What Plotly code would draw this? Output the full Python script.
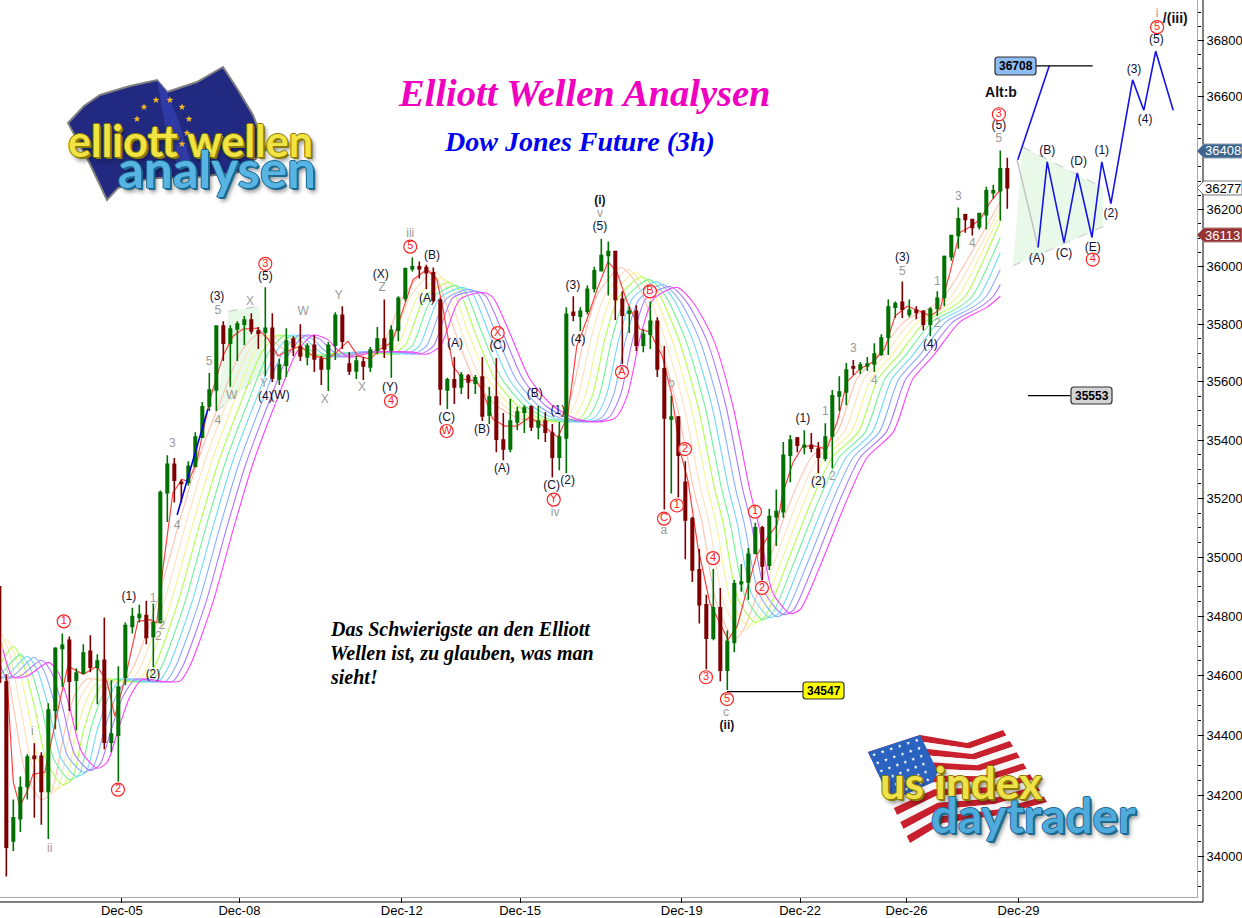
import math
import plotly.graph_objects as go

# ---------- candles (3h bars) ----------
bars = list(range(-1, 144))
opens = [34900,34579,34050,34124,34231,34331,34331,34214,34485,34692,34719,34585,34609,34682,34629,34652,34378,34401,34595,34766,34796,34803,34732,
34779,35220,35317,35255,35255,35310,35410,35517,35572,35793,35734,35783,35800,35814,35776,35772,35786,35610,35658,35748,35721,35686,35727,35679,35645,35727,35831,
35662,35638,35669,35652,35710,35748,35710,35779,35890,35993,36000,35997,35979,35883,35572,35607,35583,35620,35596,35617,35486,35548,35400,35369,35462,35496,35514,35445,35465,35424,35341,35407,35841,35828,35845,35924,35986,36039,36053,35886,35838,35845,35727,35765,35810,35645,35472,35479,35255,35131,34957,34839,34726,34829,34619,34712,34910,34916,35014,35100,34973,35138,35155,35348,35407,35376,35382,35369,35338,35414,35552,35565,35652,35645,35655,35662,35696,35755,35859,35876,35834,35848,35845,35800,35855,35893,36035,36109,36182,36165,36140,36182,36259,36266,36343]
highs = [34900,34605,34187,34264,34338,34374,34344,34508,34696,34742,34732,34625,34706,34736,34672,34796,34585,34632,34779,34829,34839,34853,34843,
35227,35348,35338,35265,35327,35427,35531,35631,35796,35810,35796,35810,35828,35838,35790,35928,35838,35679,35786,35758,35800,35734,35762,35690,35738,35841,35862,
35703,35690,35686,35721,35790,35886,35796,35897,35997,36032,36018,36007,35997,35890,35614,35686,35634,35627,35624,35686,35583,35683,35493,35541,35514,35520,35520,35517,35496,35455,35462,35859,35897,35859,35934,36000,36098,36088,36056,35914,35862,35866,35783,35879,35824,35724,35552,35483,35327,35138,35028,34873,34960,34896,34752,34923,34977,35031,35117,35107,35165,35231,35393,35417,35410,35434,35424,35393,35458,35572,35620,35665,35676,35669,35686,35734,35765,35886,35879,35948,35886,35862,35848,35859,35914,36039,36112,36207,36185,36168,36189,36280,36287,36408,36382]
lows = [34570,33933,34017,34080,34187,34127,34104,34057,34421,34562,34482,34418,34609,34612,34505,34354,34344,34247,34568,34742,34779,34706,34629,
34776,35120,35186,35186,35244,35307,35410,35500,35500,35672,35583,35672,35727,35765,35714,35620,35600,35589,35617,35690,35672,35658,35634,35589,35569,35676,35714,
35624,35610,35607,35634,35696,35683,35614,35741,35879,35983,35959,35921,35876,35520,35507,35524,35558,35541,35558,35465,35455,35358,35331,35358,35434,35424,35431,35403,35393,35272,35296,35286,35810,35776,35834,35910,35983,35900,35814,35662,35769,35707,35703,35714,35617,35162,35217,35203,34993,34916,34776,34622,34719,34582,34552,34679,34883,34856,35010,34923,34957,35038,35134,35255,35358,35351,35358,35286,35327,35303,35500,35520,35624,35627,35638,35634,35690,35693,35821,35821,35824,35817,35779,35758,35828,35862,36021,36063,36119,36109,36130,36130,36238,36161,36203]
closes = [34579,34030,34127,34227,34328,34324,34214,34485,34692,34702,34582,34609,34676,34629,34649,34378,34405,34562,34769,34799,34806,34729,34779,
35220,35317,35262,35251,35310,35410,35514,35572,35793,35734,35783,35800,35814,35776,35769,35786,35614,35658,35741,35721,35690,35724,35679,35645,35727,35831,35741,
35638,35672,35655,35710,35748,35714,35779,35890,35993,36000,35993,35979,35883,35576,35607,35583,35624,35600,35614,35483,35548,35403,35369,35465,35496,35510,35445,35465,35427,35341,35410,35834,35831,35845,35921,35986,36039,36053,35886,35831,35845,35727,35765,35810,35645,35476,35479,35348,35127,34957,34839,34726,34829,34619,34716,34910,34916,35010,35100,34970,35138,35155,35348,35400,35382,35382,35372,35341,35410,35552,35565,35641,35648,35658,35662,35696,35752,35859,35872,35852,35848,35841,35800,35852,35890,36035,36109,36168,36165,36137,36186,36266,36266,36343,36277]

# ---------- fast ribbon line ----------
red_bars = [0.1,1,1.95,3.1,3.8,5.5,7.7,8.8,11,12.95,14.4,15.5,16.95,18.8,20.5,21.5,22.4,23.8,25.1,26,27.2,29.1,30.95,32.4,33.8,35.8,37.4,38.8,40.2,42,43.8,45.95,47.2,48.8,50.2,52,53.4,55.1,56.7,58.1,60.1,61.5,62.4,63.8,65.2,67.2,68.1,69.5,71.2,72.95,74.8,76.7,78.8,80.2,81.5,82.95,84.4,85.95,87.2,88.7,90.5,91.95,93.7,95.1,96.2,97.4,98.8,100.5,103.1,104.4,105.8,107.2,108.8,110.1,110.95,112.4,113.8,115.5,117.2,118.7,120.1,121.95,123.8,125.5,126.95,128.7,130.5,132,133.4,134.8,136.2,137.7,139.1,140.5,142]
red_line = [34589,34244,34164,34221,34271,34278,34522,34632,34605,34632,34579,34465,34589,34783,34789,34779,34967,35220,35265,35258,35324,35541,35690,35758,35783,35786,35748,35690,35707,35724,35690,35679,35703,35741,35690,35679,35714,35738,35852,35955,35990,35955,35852,35655,35610,35603,35565,35472,35448,35448,35479,35448,35410,35483,35724,35817,35921,36018,35983,35876,35783,35772,35690,35552,35369,35258,35034,34846,34722,34766,34890,35007,35069,35110,35220,35324,35379,35379,35369,35462,35600,35645,35669,35714,35828,35862,35845,35828,35852,35979,36119,36140,36165,36224,36270]

# ---------- slower ribbon lines (read at shared knots, each drawn with its lag) ----------
ribbon_bars = [-0.5,1,3,6,7.4,9,10.8,13,14.4,16,17.7,19.5,22,24.8,26.2,29.5,32.4,35.2,38.7,41.5,43.8,45.8,47.2,49.1,52.4,58.1,60.1,62,64.8,68.1,69.5,72,74.8,78.1,81.5,84.4,87,88.7,90.5,92.4,95.8,98.1,101,103.8,106.2,107.4,109.5,112,113.4,116.2,120.1,123,126.7,129.5,132.4,136.2,140.1,142]
salmon = [34689,34595,34640,34750,34700,34498,34270,34187,34210,34380,34532,34589,34582,34582,34632,34846,35093,35317,35541,35703,35762,35748,35720,35700,35690,35690,35700,35740,35900,35990,35960,35780,35610,35517,35472,35462,35476,35552,35748,35900,35997,35940,35760,35517,35231,35117,34840,34722,34760,34940,35196,35341,35427,35610,35690,35807,35859,35897,36228]
peach = [34689,34595,34620,34746,34680,34498,34290,34204,34225,34400,34532,34589,34582,34582,34632,34846,35093,35317,35541,35703,35762,35748,35718,35695,35695,35695,35698,35735,35900,35983,35950,35775,35610,35517,35472,35462,35476,35552,35748,35895,35990,35930,35755,35517,35231,35117,34845,34746,34775,34950,35196,35341,35427,35610,35690,35807,35859,35897,36207]
yellow = [34689,34595,34610,34722,34660,34498,34300,34221,34240,34410,34532,34589,34582,34582,34632,34846,35093,35317,35541,35703,35762,35748,35716,35692,35698,35698,35697,35730,35897,35962,35935,35770,35610,35517,35472,35462,35476,35552,35748,35892,35979,35920,35752,35517,35231,35117,34850,34766,34790,34955,35196,35341,35427,35610,35690,35807,35859,35897,36186]
yellowgreen = [34689,34595,34605,34699,34640,34498,34310,34237,34255,34415,34532,34589,34582,34582,34632,34846,35093,35317,35541,35703,35762,35748,35715,35690,35700,35700,35696,35728,35895,35945,35925,35768,35610,35517,35472,35462,35476,35552,35748,35890,35965,35910,35750,35517,35231,35117,34860,34779,34800,34960,35196,35341,35427,35610,35690,35807,35859,35897,36158]
green = [34689,34595,34602,34672,34625,34498,34320,34254,34270,34418,34532,34589,34582,34582,34632,34846,35093,35317,35541,35703,35762,35748,35714,35688,35701,35701,35696,35726,35890,35934,35915,35766,35610,35517,35472,35462,35476,35552,35748,35888,35955,35900,35748,35517,35231,35117,34870,34789,34808,34963,35196,35341,35427,35610,35690,35807,35859,35897,36102]
cyan = [34689,34595,34600,34665,34620,34498,34325,34264,34280,34420,34532,34589,34582,34582,34632,34846,35093,35317,35541,35703,35762,35748,35714,35687,35702,35702,35696,35725,35888,35928,35910,35765,35610,35517,35472,35462,35476,35552,35748,35887,35948,35895,35748,35517,35231,35117,34875,34796,34812,34965,35196,35341,35427,35610,35690,35807,35859,35897,36049]
blue = [34689,34595,34600,34662,34616,34498,34330,34278,34295,34420,34532,34589,34582,34582,34632,34846,35093,35317,35541,35703,35762,35748,35714,35686,35703,35703,35696,35724,35887,35921,35903,35765,35610,35517,35472,35462,35476,35552,35748,35886,35938,35885,35748,35517,35231,35117,34878,34799,34816,34966,35196,35341,35427,35610,35690,35807,35859,35897,35990]
purple = [34689,34595,34599,34652,34614,34498,34335,34284,34305,34421,34532,34589,34582,34582,34632,34846,35093,35317,35541,35703,35762,35748,35714,35686,35703,35703,35696,35724,35892,35914,35897,35765,35610,35517,35472,35462,35476,35552,35748,35890,35931,35880,35748,35517,35231,35117,34875,34806,34820,34967,35196,35341,35427,35610,35690,35807,35859,35897,35938]
magenta = [34689,34595,34599,34645,34612,34498,34344,34291,34311,34421,34532,34589,34582,34582,34632,34846,35093,35317,35541,35703,35762,35748,35714,35686,35703,35703,35696,35724,35886,35910,35893,35765,35610,35517,35472,35462,35476,35552,35748,35886,35928,35876,35748,35517,35231,35117,34880,34809,34823,34967,35196,35341,35427,35610,35690,35807,35859,35897]

# ---------- wave labels ----------
paren_text = ["(1)","(2)","(3)","(5)","(4)","(W)","(X)","(B)","(A)","(Y)","(A)","(C)","(B)","(C)","(A)","(B)","(1)","(C)","(2)","(3)","(4)","(5)","(1)","(2)","(3)","(4)","(5)","(A)","(B)","(C)","(D)","(E)","(1)","(2)","(3)","(4)","(5)"]
paren_bar = [17.5,20.95,30.1,37,37,39.1,53.5,60.8,60.1,54.8,64.1,62.9,67.95,70.2,70.8,75.5,78.8,77.9,80.2,80.95,81.7,84.8,113.8,116,128,132,141.8,147.2,148.7,151.1,153.2,155.2,156.5,157.8,161.1,162.7,164.3]
paren_price = [34866,34602,35893,35965,35548,35552,35972,36039,35886,35579,35731,35476,35434,35724,35300,35558,35500,35241,35258,35931,35745,36140,35472,35255,36032,35727,36494,36028,36406,36046,36368,36067,36406,36186,36693,36515,36800]
bold_text = ["(i)","(ii)","/(iii)","Alt:b"]
bold_bar = [84.8,102.95,167,142.1]
bold_price = [36231,34431,36875,36609]
gray_text = ["i","ii","1","2","2","3","4","4","5","5","W","X","Y","W","Y","X","X","Z","iii","iv","v","b","a","c","1","2","3","4","5","1","2","3","4","5","i"]
gray_bar = [3.7,6.2,20.95,21.7,22.2,23.7,24.4,30.2,28.95,30.2,32.2,34.8,36.8,42.4,47.5,45.5,50.8,53.7,57.7,78.4,84.8,95,93.95,102.8,117,118,121,124,128,133,133,136,138,141.8,164.4]
gray_price = [34411,34023,34860,34732,34769,35386,35107,35465,35669,35845,35552,35876,35593,35841,35897,35538,35579,35924,36115,35151,36185,35593,35090,34475,35496,35272,35714,35603,35983,35948,35800,36245,36080,36448,36893]
circle_text = ["1","2","3","5","4","W","X","Y","A","B","C","1","2","4","3","5","1","2","3","4","5"]
circle_bar = [8.2,15.95,37,57.7,54.95,62.9,70.2,78.2,87.95,91.95,93.95,95.8,96.95,100.95,99.95,102.95,106.95,107.95,141.8,155.2,164.4]
circle_price = [34783,34220,36010,36070,35534,35431,35769,35196,35634,35914,35131,35176,35369,34997,34595,34522,35155,34896,36536,36025,36846]

# ---------- forecast path and levels ----------
up_bars = [144.5,149]
up_prices = [36375,36708]
zig_bars = [147.4,148.7,151.1,153,155.1,156.5,157.8,160.9,162.5,164.2,166.7]
zig_prices = [36067,36368,36084,36329,36102,36368,36221,36658,36550,36760,36550]
short_bars = [24.4,28.8]
short_prices = [35144,35507]
tri1_bars = [145.2,156.7,156.7,143.8]
tri1_prices = [36420,36277,36140,36003]
tri2_bars = [31.7,36.1,37,30.1]
tri2_prices = [35845,35862,35638,35500]
level_values = [36708,34547,35553]
level_starts = [147.1,102.95,145.96]
level_ends = [155.2,113.8,152]

y_ticks = [34000,34200,34400,34600,34800,35000,35200,35400,35600,35800,36000,36200,36400,36600,36800]
y_labels = ["34000","34200","34400","34600","34800","35000","35200","35400","35600","35800","36000","36200","","36600","36800"]
y_minor = [v for v in range(33900,36950,50)]
x_ticks = [16.5,33.3,56.5,73.4,96.5,113.4,128.6,144.6]
x_labels = ["Dec-05","Dec-08","Dec-12","Dec-15","Dec-19","Dec-22","Dec-26","Dec-29"]

W, H = 1242, 918
PW, PH = 1197, 897
xr = [-0.904, 170.1]
yr = [4.52976, 4.567533]

PX = lambda x: x / PW
PY = lambda y: 1 - y / PH

fig = go.Figure()

def poly(pts):
    return "M" + " L".join(f"{PX(a):.5f},{PY(b):.5f}" for a, b in pts) + " Z"

# forecast triangles (under everything)
for bx, py in ((tri1_bars, tri1_prices), (tri2_bars, tri2_prices)):
    fig.add_trace(go.Scatter(x=bx + bx[:1], y=py + py[:1], fill="toself", fillcolor="#e9f9e9", mode="none"))
    fig.add_trace(go.Scatter(x=bx[:2], y=py[:2], mode="lines", line=dict(color="#c4c4c4", width=1, dash="dash")))
    fig.add_trace(go.Scatter(x=bx[2:], y=py[2:], mode="lines", line=dict(color="#c4c4c4", width=1, dash="dash")))

ribbons = [(salmon,8,"#ffc0ae"),(peach,7,"#ffe2bc"),(yellow,6,"#f6f494"),(yellowgreen,5,"#b0ff50"),(green,4,"#70f498"),
           (cyan,3,"#70daf8"),(blue,2,"#88aeff"),(purple,1,"#aa78ff")]
for vals, lag, col in ribbons:
    fig.add_trace(go.Scatter(x=[b - lag for b in ribbon_bars] + [142], y=vals, mode="lines",
                             line=dict(color=col, width=1.1, shape="spline", smoothing=0.7)))
fig.add_trace(go.Scatter(x=ribbon_bars, y=magenta, mode="lines", line=dict(color="#ff40ff", width=1.1, shape="spline", smoothing=0.7)))
fig.add_trace(go.Scatter(x=red_bars, y=red_line, mode="lines", line=dict(color="#ff4040", width=1.2)))

# candles on an overlay so that they sit above the ribbons
fig.add_trace(go.Candlestick(x=bars, open=opens, high=highs, low=lows, close=closes, xaxis="x2", yaxis="y2",
    increasing=dict(line=dict(color="#007000", width=1.6), fillcolor="#007000"),
    decreasing=dict(line=dict(color="#7d0000", width=1.6), fillcolor="#7d0000"),
    whiskerwidth=0))

def over(**k):
    fig.add_trace(go.Scatter(xaxis="x2", yaxis="y2", **k))

over(x=short_bars, y=short_prices, mode="lines", line=dict(color="#0000e0", width=1.6))
over(x=[144.4,147.4], y=[36375,36067], mode="lines", line=dict(color="#c0c0c0", width=1.4))
over(x=up_bars, y=up_prices, mode="lines", line=dict(color="#1414e6", width=1.6))
over(x=zig_bars, y=zig_prices, mode="lines", line=dict(color="#1414e6", width=1.6))
for v, a, b in zip(level_values, level_starts, level_ends):
    over(x=[a, b], y=[v, v], mode="lines", line=dict(color="black", width=1.2))

SANS = "Liberation Sans"
over(x=paren_bar, y=paren_price, text=paren_text, mode="text", textposition="middle center",
     textfont=dict(family=SANS, size=12, color="#101030"))
over(x=bold_bar, y=bold_price, text=[f"<b>{t}</b>" for t in bold_text], mode="text", textposition="middle center",
     textfont=dict(family=SANS, size=[12,12,14,14], color="#101020"))
over(x=gray_bar, y=gray_price, text=gray_text, mode="text", textposition="middle center",
     textfont=dict(family=SANS, size=12, color="#9a9a9a"))
over(x=circle_bar, y=circle_price, text=circle_text, mode="markers+text", textposition="middle center",
     marker=dict(symbol="circle", size=13, color="rgba(255,255,255,0.75)", line=dict(color="#ff2020", width=1.2)),
     textfont=dict(family=SANS, size=11, color="#ff2020"))

# ---------- layout furniture ----------
shapes = []
annos = []

def rr(x0, y0, x1, y1, r=3):
    return (f"M{PX(x0+r):.5f},{PY(y0):.5f} L{PX(x1-r):.5f},{PY(y0):.5f} Q{PX(x1):.5f},{PY(y0):.5f} {PX(x1):.5f},{PY(y0+r):.5f} "
            f"L{PX(x1):.5f},{PY(y1-r):.5f} Q{PX(x1):.5f},{PY(y1):.5f} {PX(x1-r):.5f},{PY(y1):.5f} L{PX(x0+r):.5f},{PY(y1):.5f} "
            f"Q{PX(x0):.5f},{PY(y1):.5f} {PX(x0):.5f},{PY(y1-r):.5f} L{PX(x0):.5f},{PY(y0+r):.5f} Q{PX(x0):.5f},{PY(y0):.5f} {PX(x0+r):.5f},{PY(y0):.5f} Z")

def text(x, y, t, size, color, family=SANS, anchor="center", shadow=None):
    f = dict(family=family, size=size, color=color)
    if shadow: f["shadow"] = shadow
    annos.append(dict(xref="paper", yref="paper", x=PX(x), y=PY(y), text=t, showarrow=False,
                      xanchor=anchor, yanchor="middle", font=f, align="left", borderpad=0, borderwidth=0))

def add_shape(path, fill, line="rgba(0,0,0,0)", w=1):
    shapes.append(dict(type="path", xref="paper", yref="paper", path=path, fillcolor=fill,
                       line=dict(color=line, width=w), layer="above"))

# second axis rules
shapes.append(dict(type="line", xref="paper", yref="paper", x0=PX(1203), x1=PX(1203), y0=1, y1=PY(902), line=dict(color="black", width=1)))
shapes.append(dict(type="line", xref="paper", yref="paper", x0=0, x1=PX(1203), y0=PY(902), y1=PY(902), line=dict(color="black", width=1)))

# value boxes
for x0, y0, x1, y1, fill, t in ((995,57,1036,75,"#8fbcf2","36708"), (803,682,844,699,"#ffff00","34547"), (1071,387,1112,404,"#d4d4d4","35553")):
    add_shape(rr(x0, y0, x1, y1), fill, "#333333", 1.2)
    text((x0 + x1) / 2, (y0 + y1) / 2, f"<b>{t}</b>", 12, "black")

# price tags on the axis
for yc, fill, edge, col, t in ((151,"#3c648c","#8aa0b8","white","36408"), (188,"white","#777777","black","36277"), (235,"#963232","#b08080","white","36113")):
    add_shape(poly([(1197,yc),(1204,yc-7),(1242,yc-7),(1242,yc+7),(1204,yc+7)]), fill, edge, 1)
    text(1205, yc, t, 13, col, anchor="left")

# titles and note
text(584, 93, "<b><i>Elliott Wellen Analysen</i></b>", 38.5, "#f000c0", "Liberation Serif")
text(579, 141, "<b><i>Dow Jones Future (3h)</i></b>", 28, "#0000f0", "Liberation Serif")
text(330, 629, "<b><i>Das Schwierigste an den Elliott</i></b>", 20, "black", "Liberation Serif", anchor="left")
text(330, 653, "<b><i>Wellen ist, zu glauben, was man</i></b>", 20, "black", "Liberation Serif", anchor="left")
text(330, 677, "<b><i>sieht!</i></b>", 20, "black", "Liberation Serif", anchor="left")

# EU logo
add_shape(poly([(68,123),(84,106),(100,95),(130,86),(157,80),(167,92),(197,82),(223,67),(238,90),(253,115),(266,150),(240,172),(190,178),(150,178),(118,188),(107,200),(88,160)]),
    "#212a80", "#808080", 2)
add_shape(poly([(157,80),(167,92),(180,125),(190,160),(178,170),(165,125)]), "#2f3aa6")

def star(cx, cy, r=3.6):
    pts = []
    for j in range(10):
        a = -math.pi / 2 + j * math.pi / 5
        rad = r if j % 2 == 0 else r * 0.42
        pts.append((cx + rad * math.cos(a), cy + rad * math.sin(a)))
    return poly(pts)

for sx, sy in [(144,107),(156,100),(170,100),(182,107),(189,119),(187,133),(182,144),(137,119)]:
    add_shape(star(sx, sy), "#f4b820")

yellow_fx = "1px 0 0 #8a7c00,-1px 0 0 #8a7c00,0 1px 0 #8a7c00,0 -1px 0 #8a7c00,2px 2px 0 #8a7c00,3px 4px 4px rgba(0,0,0,0.45)"
blue_fx = "1px 0 0 #1d6a92,-1px 0 0 #1d6a92,0 1px 0 #1d6a92,0 -1px 0 #1d6a92,2px 2px 0 #1d6a92,3px 4px 4px rgba(0,0,0,0.45)"
text(190, 140, "<b>elliott wellen</b>", 43, "#f1e344", "Lato", shadow=yellow_fx)
text(217, 169, "<b>analysen</b>", 51, "#58b4e2", "Lato", shadow=blue_fx)

# US logo
top = [(868,752),(920,735),(967,743),(1003,730)]
bot = [(910,843),(943,823),(1000,815),(1047,802)]

def lerp(p, q, t):
    return (p[0] + (q[0] - p[0]) * t, p[1] + (q[1] - p[1]) * t)

for k in range(13):
    a, b = k / 13, (k + 1) / 13
    pts = [lerp(t, d, a) for t, d in zip(top, bot)] + [lerp(t, d, b) for t, d in zip(top[::-1], bot[::-1])]
    add_shape(poly(pts), "#c8202c" if k % 2 == 0 else "#f8f8f8")
canton = [top[0], top[1], (938,772), lerp(top[1], bot[1], 7/13), lerp(top[0], bot[0], 7/13)]
add_shape(poly(canton), "#2a62c0")
for row in range(6):
    for col in range(6):
        u, v = (col + 0.5) / 6, (row + 0.5) / 6
        L = lerp(top[0], lerp(top[0], bot[0], 7/13), v)
        R = lerp(top[1], lerp(top[1], bot[1], 7/13), v)
        dx, dy = lerp(L, R, u)
        add_shape(star(dx, dy, 2), "white")
text(961, 782, "<b>us index</b>", 44, "#efe14a", "Lato", shadow=yellow_fx)
text(1033, 814, "<b>daytrader</b>", 47.5, "#4fabdc", "Lato", shadow=blue_fx)

fig.update_layout(
    width=W, height=H, autosize=False, showlegend=False, hovermode=False,
    paper_bgcolor="white", plot_bgcolor="white", boxgap=0.5,
    margin=dict(l=0, r=W - PW, t=0, b=H - PH, pad=0, autoexpand=False),
    xaxis=dict(range=xr, domain=[0, 1], tickmode="array", tickvals=x_ticks, ticktext=x_labels, ticks="outside", ticklen=5,
               tickcolor="black", showgrid=False, zeroline=False, showline=True, linecolor="#a8a8a8", linewidth=1,
               tickfont=dict(family=SANS, size=13, color="black"), anchor="y", automargin=False, ticklabelstandoff=-4),
    yaxis=dict(type="log", range=yr, domain=[0, 1], side="right", tickmode="array", tickvals=y_ticks, ticktext=y_labels,
               ticks="outside", ticklen=6, tickcolor="black", showgrid=False, zeroline=False, showline=True, linecolor="#a8a8a8",
               linewidth=1, tickfont=dict(family=SANS, size=13, color="black"), anchor="x", automargin=False,
               minor=dict(tickmode="array", tickvals=y_minor, ticks="outside", ticklen=3, tickcolor="black", showgrid=False)),
    xaxis2=dict(range=xr, overlaying="x", visible=False, rangeslider=dict(visible=False), anchor="y2"),
    yaxis2=dict(type="log", range=yr, overlaying="y", visible=False, anchor="x2"),
    shapes=shapes, annotations=annos,
)
for t in fig.data:
    t.showlegend = False
    t.hoverinfo = "skip"

fig.write_html("out.html", post_script="document.body.style.margin='0';", config=dict(displayModeBar=False))
